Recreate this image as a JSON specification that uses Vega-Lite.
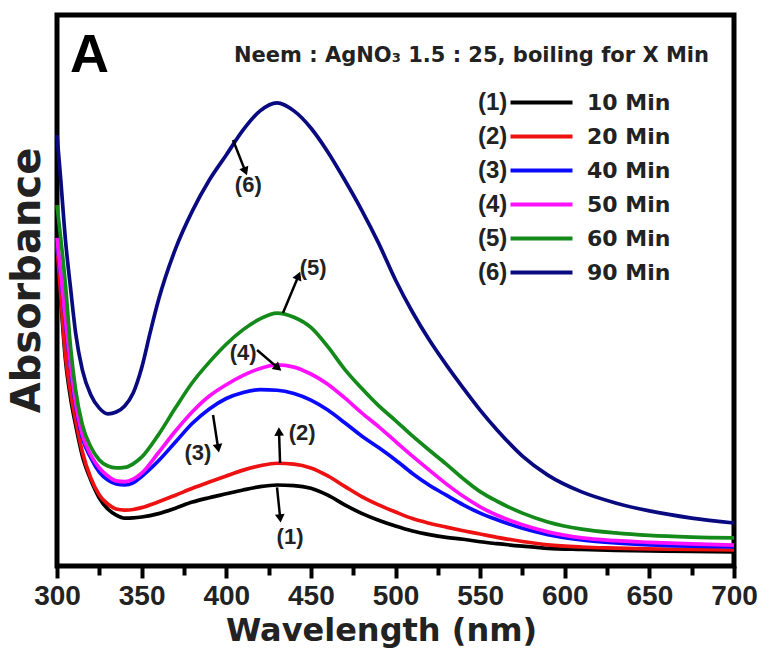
{
"$schema":"https://vega.github.io/schema/vega-lite/v6.json",
"width":677,"height":551,
"autosize":{"type":"none"},
"padding":{"left":57,"top":15,"right":28,"bottom":91},
"background":"white",
"title":{"text":"Neem : AgNO₃  1.5 : 25, boiling for X Min","anchor":"end","frame":"group","orient":"top","offset":0,"dx":-25,"dy":68,"baseline":"alphabetic","font":"DejaVu Sans","fontWeight":"bold","fontSize":21,"color":"#222"},
"config":{"view":{"stroke":"#000","strokeWidth":5},"axis":{"grid":false}},
"datasets":{
"spectra":[
{"nm":300,"time":"10 Min","curve":"(1)","abs":1.147},{"nm":302,"time":"10 Min","curve":"(1)","abs":0.984},{"nm":305,"time":"10 Min","curve":"(1)","abs":0.748},{"nm":308,"time":"10 Min","curve":"(1)","abs":0.610},{"nm":311,"time":"10 Min","curve":"(1)","abs":0.512},{"nm":315,"time":"10 Min","curve":"(1)","abs":0.399},{"nm":320,"time":"10 Min","curve":"(1)","abs":0.312},{"nm":325,"time":"10 Min","curve":"(1)","abs":0.247},{"nm":330,"time":"10 Min","curve":"(1)","abs":0.207},{"nm":335,"time":"10 Min","curve":"(1)","abs":0.185},{"nm":340,"time":"10 Min","curve":"(1)","abs":0.174},{"nm":345,"time":"10 Min","curve":"(1)","abs":0.175},{"nm":350,"time":"10 Min","curve":"(1)","abs":0.178},{"nm":360,"time":"10 Min","curve":"(1)","abs":0.190},{"nm":370,"time":"10 Min","curve":"(1)","abs":0.210},{"nm":380,"time":"10 Min","curve":"(1)","abs":0.232},{"nm":390,"time":"10 Min","curve":"(1)","abs":0.248},{"nm":400,"time":"10 Min","curve":"(1)","abs":0.262},{"nm":410,"time":"10 Min","curve":"(1)","abs":0.276},{"nm":420,"time":"10 Min","curve":"(1)","abs":0.288},{"nm":430,"time":"10 Min","curve":"(1)","abs":0.294},{"nm":440,"time":"10 Min","curve":"(1)","abs":0.292},{"nm":450,"time":"10 Min","curve":"(1)","abs":0.282},{"nm":460,"time":"10 Min","curve":"(1)","abs":0.257},{"nm":470,"time":"10 Min","curve":"(1)","abs":0.222},{"nm":480,"time":"10 Min","curve":"(1)","abs":0.191},{"nm":490,"time":"10 Min","curve":"(1)","abs":0.166},{"nm":500,"time":"10 Min","curve":"(1)","abs":0.145},{"nm":510,"time":"10 Min","curve":"(1)","abs":0.127},{"nm":520,"time":"10 Min","curve":"(1)","abs":0.114},{"nm":530,"time":"10 Min","curve":"(1)","abs":0.104},{"nm":540,"time":"10 Min","curve":"(1)","abs":0.097},{"nm":550,"time":"10 Min","curve":"(1)","abs":0.088},{"nm":560,"time":"10 Min","curve":"(1)","abs":0.081},{"nm":575,"time":"10 Min","curve":"(1)","abs":0.072},{"nm":590,"time":"10 Min","curve":"(1)","abs":0.064},{"nm":610,"time":"10 Min","curve":"(1)","abs":0.060},{"nm":630,"time":"10 Min","curve":"(1)","abs":0.057},{"nm":650,"time":"10 Min","curve":"(1)","abs":0.055},{"nm":675,"time":"10 Min","curve":"(1)","abs":0.053},{"nm":700,"time":"10 Min","curve":"(1)","abs":0.051},
{"nm":300,"time":"20 Min","curve":"(2)","abs":1.165},{"nm":302,"time":"20 Min","curve":"(2)","abs":1.002},{"nm":305,"time":"20 Min","curve":"(2)","abs":0.766},{"nm":308,"time":"20 Min","curve":"(2)","abs":0.632},{"nm":311,"time":"20 Min","curve":"(2)","abs":0.530},{"nm":315,"time":"20 Min","curve":"(2)","abs":0.414},{"nm":320,"time":"20 Min","curve":"(2)","abs":0.319},{"nm":325,"time":"20 Min","curve":"(2)","abs":0.258},{"nm":330,"time":"20 Min","curve":"(2)","abs":0.225},{"nm":335,"time":"20 Min","curve":"(2)","abs":0.207},{"nm":340,"time":"20 Min","curve":"(2)","abs":0.203},{"nm":345,"time":"20 Min","curve":"(2)","abs":0.205},{"nm":350,"time":"20 Min","curve":"(2)","abs":0.212},{"nm":360,"time":"20 Min","curve":"(2)","abs":0.233},{"nm":370,"time":"20 Min","curve":"(2)","abs":0.257},{"nm":380,"time":"20 Min","curve":"(2)","abs":0.282},{"nm":390,"time":"20 Min","curve":"(2)","abs":0.305},{"nm":400,"time":"20 Min","curve":"(2)","abs":0.327},{"nm":410,"time":"20 Min","curve":"(2)","abs":0.348},{"nm":420,"time":"20 Min","curve":"(2)","abs":0.364},{"nm":430,"time":"20 Min","curve":"(2)","abs":0.373},{"nm":440,"time":"20 Min","curve":"(2)","abs":0.370},{"nm":450,"time":"20 Min","curve":"(2)","abs":0.356},{"nm":460,"time":"20 Min","curve":"(2)","abs":0.327},{"nm":470,"time":"20 Min","curve":"(2)","abs":0.289},{"nm":480,"time":"20 Min","curve":"(2)","abs":0.252},{"nm":490,"time":"20 Min","curve":"(2)","abs":0.222},{"nm":500,"time":"20 Min","curve":"(2)","abs":0.196},{"nm":510,"time":"20 Min","curve":"(2)","abs":0.172},{"nm":520,"time":"20 Min","curve":"(2)","abs":0.155},{"nm":530,"time":"20 Min","curve":"(2)","abs":0.141},{"nm":540,"time":"20 Min","curve":"(2)","abs":0.128},{"nm":550,"time":"20 Min","curve":"(2)","abs":0.116},{"nm":560,"time":"20 Min","curve":"(2)","abs":0.104},{"nm":575,"time":"20 Min","curve":"(2)","abs":0.089},{"nm":590,"time":"20 Min","curve":"(2)","abs":0.077},{"nm":610,"time":"20 Min","curve":"(2)","abs":0.069},{"nm":630,"time":"20 Min","curve":"(2)","abs":0.065},{"nm":650,"time":"20 Min","curve":"(2)","abs":0.062},{"nm":675,"time":"20 Min","curve":"(2)","abs":0.060},{"nm":700,"time":"20 Min","curve":"(2)","abs":0.058},
{"nm":300,"time":"40 Min","curve":"(3)","abs":1.176},{"nm":302,"time":"40 Min","curve":"(3)","abs":1.067},{"nm":305,"time":"40 Min","curve":"(3)","abs":0.886},{"nm":308,"time":"40 Min","curve":"(3)","abs":0.719},{"nm":311,"time":"40 Min","curve":"(3)","abs":0.584},{"nm":315,"time":"40 Min","curve":"(3)","abs":0.465},{"nm":320,"time":"40 Min","curve":"(3)","abs":0.392},{"nm":325,"time":"40 Min","curve":"(3)","abs":0.341},{"nm":330,"time":"40 Min","curve":"(3)","abs":0.312},{"nm":335,"time":"40 Min","curve":"(3)","abs":0.298},{"nm":340,"time":"40 Min","curve":"(3)","abs":0.294},{"nm":345,"time":"40 Min","curve":"(3)","abs":0.302},{"nm":350,"time":"40 Min","curve":"(3)","abs":0.325},{"nm":360,"time":"40 Min","curve":"(3)","abs":0.382},{"nm":370,"time":"40 Min","curve":"(3)","abs":0.450},{"nm":380,"time":"40 Min","curve":"(3)","abs":0.518},{"nm":390,"time":"40 Min","curve":"(3)","abs":0.570},{"nm":400,"time":"40 Min","curve":"(3)","abs":0.608},{"nm":410,"time":"40 Min","curve":"(3)","abs":0.630},{"nm":420,"time":"40 Min","curve":"(3)","abs":0.640},{"nm":430,"time":"40 Min","curve":"(3)","abs":0.638},{"nm":440,"time":"40 Min","curve":"(3)","abs":0.626},{"nm":450,"time":"40 Min","curve":"(3)","abs":0.602},{"nm":460,"time":"40 Min","curve":"(3)","abs":0.566},{"nm":470,"time":"40 Min","curve":"(3)","abs":0.520},{"nm":480,"time":"40 Min","curve":"(3)","abs":0.472},{"nm":490,"time":"40 Min","curve":"(3)","abs":0.430},{"nm":500,"time":"40 Min","curve":"(3)","abs":0.385},{"nm":510,"time":"40 Min","curve":"(3)","abs":0.336},{"nm":520,"time":"40 Min","curve":"(3)","abs":0.293},{"nm":530,"time":"40 Min","curve":"(3)","abs":0.257},{"nm":540,"time":"40 Min","curve":"(3)","abs":0.222},{"nm":550,"time":"40 Min","curve":"(3)","abs":0.192},{"nm":560,"time":"40 Min","curve":"(3)","abs":0.168},{"nm":575,"time":"40 Min","curve":"(3)","abs":0.137},{"nm":590,"time":"40 Min","curve":"(3)","abs":0.114},{"nm":610,"time":"40 Min","curve":"(3)","abs":0.095},{"nm":630,"time":"40 Min","curve":"(3)","abs":0.084},{"nm":650,"time":"40 Min","curve":"(3)","abs":0.077},{"nm":675,"time":"40 Min","curve":"(3)","abs":0.072},{"nm":700,"time":"40 Min","curve":"(3)","abs":0.069},
{"nm":300,"time":"50 Min","curve":"(4)","abs":1.191},{"nm":302,"time":"50 Min","curve":"(4)","abs":1.074},{"nm":305,"time":"50 Min","curve":"(4)","abs":0.893},{"nm":308,"time":"50 Min","curve":"(4)","abs":0.730},{"nm":311,"time":"50 Min","curve":"(4)","abs":0.592},{"nm":315,"time":"50 Min","curve":"(4)","abs":0.475},{"nm":320,"time":"50 Min","curve":"(4)","abs":0.403},{"nm":325,"time":"50 Min","curve":"(4)","abs":0.356},{"nm":330,"time":"50 Min","curve":"(4)","abs":0.327},{"nm":335,"time":"50 Min","curve":"(4)","abs":0.309},{"nm":340,"time":"50 Min","curve":"(4)","abs":0.306},{"nm":345,"time":"50 Min","curve":"(4)","abs":0.315},{"nm":350,"time":"50 Min","curve":"(4)","abs":0.337},{"nm":360,"time":"50 Min","curve":"(4)","abs":0.412},{"nm":370,"time":"50 Min","curve":"(4)","abs":0.490},{"nm":380,"time":"50 Min","curve":"(4)","abs":0.560},{"nm":390,"time":"50 Min","curve":"(4)","abs":0.617},{"nm":400,"time":"50 Min","curve":"(4)","abs":0.658},{"nm":410,"time":"50 Min","curve":"(4)","abs":0.692},{"nm":420,"time":"50 Min","curve":"(4)","abs":0.717},{"nm":430,"time":"50 Min","curve":"(4)","abs":0.730},{"nm":440,"time":"50 Min","curve":"(4)","abs":0.722},{"nm":450,"time":"50 Min","curve":"(4)","abs":0.697},{"nm":460,"time":"50 Min","curve":"(4)","abs":0.660},{"nm":470,"time":"50 Min","curve":"(4)","abs":0.610},{"nm":480,"time":"50 Min","curve":"(4)","abs":0.556},{"nm":490,"time":"50 Min","curve":"(4)","abs":0.506},{"nm":500,"time":"50 Min","curve":"(4)","abs":0.452},{"nm":510,"time":"50 Min","curve":"(4)","abs":0.399},{"nm":520,"time":"50 Min","curve":"(4)","abs":0.348},{"nm":530,"time":"50 Min","curve":"(4)","abs":0.298},{"nm":540,"time":"50 Min","curve":"(4)","abs":0.253},{"nm":550,"time":"50 Min","curve":"(4)","abs":0.215},{"nm":560,"time":"50 Min","curve":"(4)","abs":0.184},{"nm":575,"time":"50 Min","curve":"(4)","abs":0.150},{"nm":590,"time":"50 Min","curve":"(4)","abs":0.124},{"nm":610,"time":"50 Min","curve":"(4)","abs":0.102},{"nm":630,"time":"50 Min","curve":"(4)","abs":0.092},{"nm":650,"time":"50 Min","curve":"(4)","abs":0.086},{"nm":675,"time":"50 Min","curve":"(4)","abs":0.080},{"nm":700,"time":"50 Min","curve":"(4)","abs":0.076},
{"nm":300,"time":"60 Min","curve":"(5)","abs":1.310},{"nm":302,"time":"60 Min","curve":"(5)","abs":1.201},{"nm":305,"time":"60 Min","curve":"(5)","abs":1.020},{"nm":308,"time":"60 Min","curve":"(5)","abs":0.795},{"nm":311,"time":"60 Min","curve":"(5)","abs":0.639},{"nm":315,"time":"60 Min","curve":"(5)","abs":0.512},{"nm":320,"time":"60 Min","curve":"(5)","abs":0.432},{"nm":325,"time":"60 Min","curve":"(5)","abs":0.385},{"nm":330,"time":"60 Min","curve":"(5)","abs":0.363},{"nm":335,"time":"60 Min","curve":"(5)","abs":0.356},{"nm":340,"time":"60 Min","curve":"(5)","abs":0.358},{"nm":345,"time":"60 Min","curve":"(5)","abs":0.371},{"nm":350,"time":"60 Min","curve":"(5)","abs":0.395},{"nm":360,"time":"60 Min","curve":"(5)","abs":0.477},{"nm":370,"time":"60 Min","curve":"(5)","abs":0.574},{"nm":380,"time":"60 Min","curve":"(5)","abs":0.666},{"nm":390,"time":"60 Min","curve":"(5)","abs":0.740},{"nm":400,"time":"60 Min","curve":"(5)","abs":0.805},{"nm":410,"time":"60 Min","curve":"(5)","abs":0.858},{"nm":420,"time":"60 Min","curve":"(5)","abs":0.897},{"nm":430,"time":"60 Min","curve":"(5)","abs":0.918},{"nm":440,"time":"60 Min","curve":"(5)","abs":0.903},{"nm":450,"time":"60 Min","curve":"(5)","abs":0.866},{"nm":460,"time":"60 Min","curve":"(5)","abs":0.796},{"nm":470,"time":"60 Min","curve":"(5)","abs":0.714},{"nm":480,"time":"60 Min","curve":"(5)","abs":0.645},{"nm":490,"time":"60 Min","curve":"(5)","abs":0.582},{"nm":500,"time":"60 Min","curve":"(5)","abs":0.528},{"nm":510,"time":"60 Min","curve":"(5)","abs":0.472},{"nm":520,"time":"60 Min","curve":"(5)","abs":0.420},{"nm":530,"time":"60 Min","curve":"(5)","abs":0.370},{"nm":540,"time":"60 Min","curve":"(5)","abs":0.317},{"nm":550,"time":"60 Min","curve":"(5)","abs":0.270},{"nm":560,"time":"60 Min","curve":"(5)","abs":0.235},{"nm":575,"time":"60 Min","curve":"(5)","abs":0.192},{"nm":590,"time":"60 Min","curve":"(5)","abs":0.160},{"nm":610,"time":"60 Min","curve":"(5)","abs":0.134},{"nm":630,"time":"60 Min","curve":"(5)","abs":0.120},{"nm":650,"time":"60 Min","curve":"(5)","abs":0.111},{"nm":675,"time":"60 Min","curve":"(5)","abs":0.105},{"nm":700,"time":"60 Min","curve":"(5)","abs":0.102},
{"nm":300,"time":"90 Min","curve":"(6)","abs":1.564},{"nm":302,"time":"90 Min","curve":"(6)","abs":1.419},{"nm":305,"time":"90 Min","curve":"(6)","abs":1.183},{"nm":308,"time":"90 Min","curve":"(6)","abs":1.009},{"nm":311,"time":"90 Min","curve":"(6)","abs":0.846},{"nm":315,"time":"90 Min","curve":"(6)","abs":0.711},{"nm":320,"time":"90 Min","curve":"(6)","abs":0.621},{"nm":325,"time":"90 Min","curve":"(6)","abs":0.573},{"nm":330,"time":"90 Min","curve":"(6)","abs":0.552},{"nm":335,"time":"90 Min","curve":"(6)","abs":0.559},{"nm":340,"time":"90 Min","curve":"(6)","abs":0.581},{"nm":345,"time":"90 Min","curve":"(6)","abs":0.628},{"nm":350,"time":"90 Min","curve":"(6)","abs":0.719},{"nm":355,"time":"90 Min","curve":"(6)","abs":0.846},{"nm":360,"time":"90 Min","curve":"(6)","abs":0.966},{"nm":370,"time":"90 Min","curve":"(6)","abs":1.151},{"nm":380,"time":"90 Min","curve":"(6)","abs":1.289},{"nm":390,"time":"90 Min","curve":"(6)","abs":1.401},{"nm":400,"time":"90 Min","curve":"(6)","abs":1.492},{"nm":410,"time":"90 Min","curve":"(6)","abs":1.583},{"nm":420,"time":"90 Min","curve":"(6)","abs":1.652},{"nm":430,"time":"90 Min","curve":"(6)","abs":1.681},{"nm":440,"time":"90 Min","curve":"(6)","abs":1.652},{"nm":450,"time":"90 Min","curve":"(6)","abs":1.590},{"nm":460,"time":"90 Min","curve":"(6)","abs":1.503},{"nm":470,"time":"90 Min","curve":"(6)","abs":1.401},{"nm":480,"time":"90 Min","curve":"(6)","abs":1.292},{"nm":490,"time":"90 Min","curve":"(6)","abs":1.172},{"nm":500,"time":"90 Min","curve":"(6)","abs":1.038},{"nm":510,"time":"90 Min","curve":"(6)","abs":0.922},{"nm":520,"time":"90 Min","curve":"(6)","abs":0.820},{"nm":530,"time":"90 Min","curve":"(6)","abs":0.730},{"nm":540,"time":"90 Min","curve":"(6)","abs":0.646},{"nm":550,"time":"90 Min","curve":"(6)","abs":0.566},{"nm":560,"time":"90 Min","curve":"(6)","abs":0.494},{"nm":575,"time":"90 Min","curve":"(6)","abs":0.399},{"nm":590,"time":"90 Min","curve":"(6)","abs":0.330},{"nm":610,"time":"90 Min","curve":"(6)","abs":0.269},{"nm":630,"time":"90 Min","curve":"(6)","abs":0.229},{"nm":650,"time":"90 Min","curve":"(6)","abs":0.200},{"nm":675,"time":"90 Min","curve":"(6)","abs":0.174},{"nm":700,"time":"90 Min","curve":"(6)","abs":0.156}
],
"notes":[
{"curve":"(6)","x1":404,"y1":1.546,"x2":411,"y2":1.437,"lx":413,"ly":1.383,"angle":158},
{"curve":"(5)","x1":433.5,"y1":0.918,"x2":442.4,"y2":1.049,"lx":451.3,"ly":1.082,"angle":23},
{"curve":"(4)","x1":418.2,"y1":0.784,"x2":430,"y2":0.722,"lx":410,"ly":0.773,"angle":130},
{"curve":"(3)","x1":392.2,"y1":0.548,"x2":395.1,"y2":0.432,"lx":383.3,"ly":0.410,"angle":170},
{"curve":"(2)","x1":431.8,"y1":0.374,"x2":431.2,"y2":0.483,"lx":444.8,"ly":0.483,"angle":358},
{"curve":"(1)","x1":430,"y1":0.285,"x2":431.8,"y2":0.178,"lx":437.7,"ly":0.105,"angle":174}
]
},
"layer":[
{"data":{"name":"spectra"},
"mark":{"type":"line","strokeWidth":3.7,"interpolate":"monotone"},
"encoding":{
"x":{"field":"nm","type":"quantitative","scale":{"domain":[300,700],"nice":false,"zero":false},
"axis":{"orient":"bottom","values":[300,350,400,450,500,550,600,650,700],"title":"Wavelength (nm)","titleFont":"DejaVu Sans","titleFontWeight":"bold","titleFontSize":32,"titleColor":"#222","titleX":324,"titleY":74,"titleBaseline":"alphabetic","titleAlign":"center","labelFont":"Liberation Sans","labelFontWeight":"bold","labelFontSize":28,"labelColor":"#222","labelPadding":4,"labelFlush":false,"labelOverlap":false,"labelBound":false,"tickSize":12,"tickWidth":4,"tickColor":"#000","domain":false,"grid":false}},
"y":{"field":"abs","type":"quantitative","scale":{"domain":[0,2],"nice":false,"zero":true},
"axis":{"title":"Absorbance","titleFont":"DejaVu Sans","titleFontWeight":"bold","titleFontSize":40,"titleColor":"#222","titleY":265,"titlePadding":10,"ticks":false,"labels":false,"domain":false,"grid":false}},
"color":{"field":"time","type":"nominal","scale":{"domain":["10 Min","20 Min","40 Min","50 Min","60 Min","90 Min"],"range":["#000000","#ee1111","#0a0aff","#ff11ff","#138a1a","#0a0a80"]},
"legend":{"orient":"none","legendX":472,"legendY":75,"title":null,"symbolType":"M-3,0H3","symbolStrokeWidth":4,"symbolSize":427,"labelFont":"DejaVu Sans","labelFontWeight":"bold","labelFontSize":22,"labelColor":"#222","labelOffset":33,"rowPadding":10,"padding":0}},
"opacity":{"field":"curve","type":"ordinal","scale":{"range":[1,1,1,1,1,1]},
"legend":{"orient":"none","legendX":397,"legendY":76,"title":null,"symbolSize":0,"symbolOpacity":0,"symbolStrokeWidth":0,"labelFont":"Liberation Sans","labelFontWeight":"bold","labelFontSize":24,"labelColor":"#222","labelOffset":0,"rowPadding":10,"padding":0}}
}},
{"data":{"name":"notes"},
"mark":{"type":"rule","strokeWidth":2.5,"color":"#000"},
"encoding":{
"x":{"field":"x1","type":"quantitative","scale":{"domain":[300,700],"nice":false,"zero":false},
"axis":{"orient":"bottom","values":[325,375,425,475,525,575,625,675],"labels":false,"domain":false,"grid":false,"title":null,"tickSize":9,"tickWidth":4,"tickColor":"#000"}},
"y":{"field":"y1","type":"quantitative"},
"x2":{"field":"x2"},"y2":{"field":"y2"}}},
{"data":{"name":"notes"},
"mark":{"type":"point","shape":"triangle","filled":true,"color":"#000","size":95,"opacity":1},
"encoding":{
"x":{"field":"x2","type":"quantitative","axis":null},
"y":{"field":"y2","type":"quantitative"},
"angle":{"field":"angle","type":"quantitative","scale":null}}},
{"data":{"name":"notes"},
"mark":{"type":"text","font":"Liberation Sans","fontWeight":"bold","fontSize":22,"color":"#222"},
"encoding":{
"x":{"field":"lx","type":"quantitative","axis":null},
"y":{"field":"ly","type":"quantitative"},
"text":{"field":"curve"}}},
{"data":{"values":[{"panel":"A"}]},
"mark":{"type":"text","font":"Liberation Sans","fontWeight":"bold","fontSize":54,"color":"#000","align":"left","baseline":"alphabetic"},
"encoding":{
"x":{"datum":307.7,"type":"quantitative","axis":null},
"y":{"datum":1.793,"type":"quantitative"},
"text":{"field":"panel"}}}
],
"resolve":{"axis":{"x":"independent"}}
}
